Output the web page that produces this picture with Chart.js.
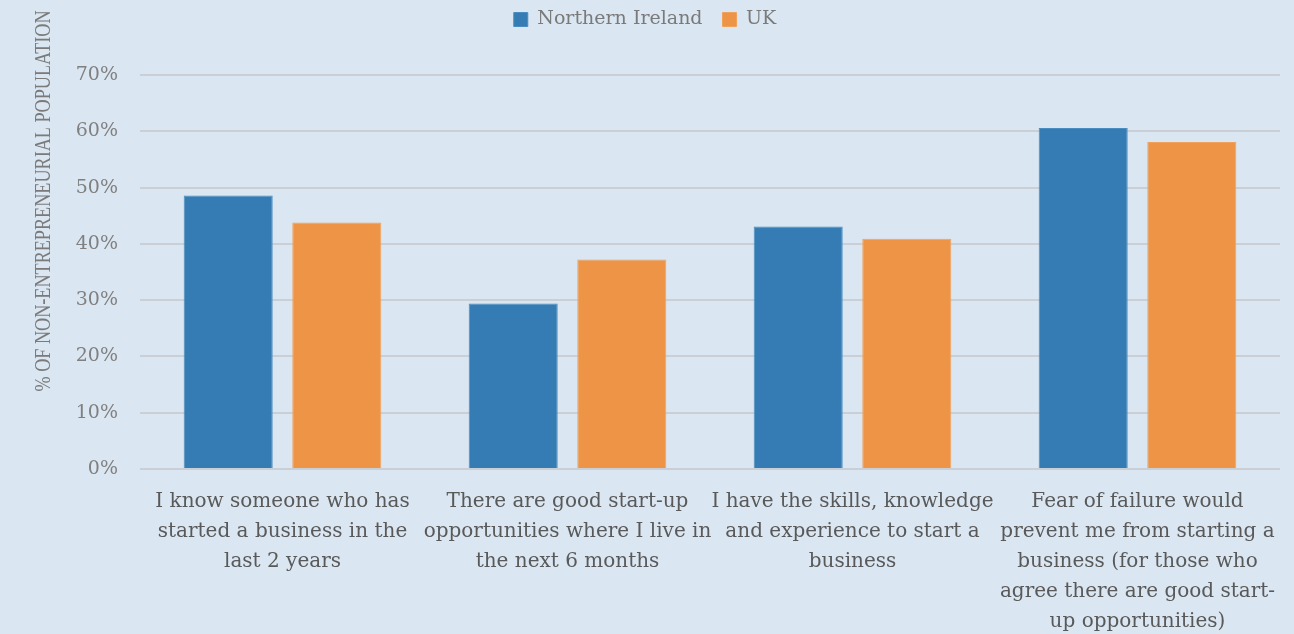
<!DOCTYPE html>
<html><head><meta charset="utf-8">
<script src="https://cdn.jsdelivr.net/npm/chart.js@4/dist/chart.umd.min.js"></script>
<style>html,body{margin:0;padding:0;background:#dae6f1;}#wrap{width:1294px;height:634px;}</style>
</head><body><div id="wrap"><canvas id="c"></canvas></div>
<script>
const categories = [
  ["I know someone who has","started a business in the","last 2 years"],
  ["There are good start-up","opportunities where I live in","the next 6 months"],
  ["I have the skills, knowledge","and experience to start a","business"],
  ["Fear of failure would","prevent me from starting a","business (for those who","agree there are good start-","up opportunities)"]
];
const northernIreland = [48.6, 29.4, 43.1, 60.6];
const uk = [43.8, 37.2, 40.9, 58.1];
const yTicks = [0,10,20,30,40,50,60,70];
const yTitle = '% OF NON-ENTREPRENEURIAL POPULATION';
const serif = "'DejaVu Serif', 'Liberation Serif', serif";

const legendSpace = {
  id: 'legendSpace',
  beforeInit(chart) {
    const lg = chart.legend;
    if (!lg) return;
    const orig = lg.fit;
    lg.fit = function() { orig.call(this); this.height = 85; };
  }
};
const yTitlePlugin = {
  id: 'yTitlePlugin',
  afterDraw(chart) {
    const ctx = chart.ctx;
    ctx.save();
    ctx.translate(44, 201);
    ctx.rotate(-Math.PI / 2);
    ctx.scale(0.79, 1);
    ctx.font = "23px 'Liberation Serif', serif";
    ctx.fillStyle = '#7a7a7a';
    ctx.textAlign = 'center';
    ctx.textBaseline = 'middle';
    ctx.fillText(yTitle, 0, 0);
    ctx.restore();
  }
};

new Chart(document.getElementById('c'), {
  type: 'bar',
  data: {
    labels: categories,
    datasets: [
      {label: 'Northern Ireland', data: northernIreland, backgroundColor: '#347cb3', borderColor:'#4a8cc0', borderWidth:1},
      {label: 'UK', data: uk, backgroundColor: '#ed9446', borderColor:'#f0a25c', borderWidth:1}
    ]
  },
  plugins: [legendSpace, yTitlePlugin],
  options: {
    responsive: true, maintainAspectRatio: false, animation: false,
    layout: {padding: {left: 10, right: 14, top: -10, bottom: 0}},
    datasets: {bar: {categoryPercentage: 0.762, barPercentage: 0.82}},
    plugins: {
      tooltip: {enabled: false},
      legend: {
        position: 'top',
        labels: {boxWidth: 14, boxHeight: 14, color: '#7a7a7a', font: {family: serif, size: 19}, padding: 20},
      }
    },
    scales: {
      x: {
        grid: {display: false},
        border: {display: false},
        ticks: {color: '#595959', font: {family: serif, size: 20, lineHeight: 1.5}, maxRotation: 0, autoSkip: false, padding: 10},
        afterFit: s => { s.height = 165; }
      },
      y: {
        min: 0, max: 70,
        afterBuildTicks: s => { s.ticks = yTicks.map(v => ({value: v})); },
        grid: {color: '#c9cfd5', lineWidth: 2, drawTicks: false},
        border: {display: false},
        ticks: {color: '#808080', font: {family: serif, size: 19}, padding: 22, callback: v => v + '%'},
        afterFit: s => { s.width = 130; }
      }
    }
  }
});
</script></body></html>
